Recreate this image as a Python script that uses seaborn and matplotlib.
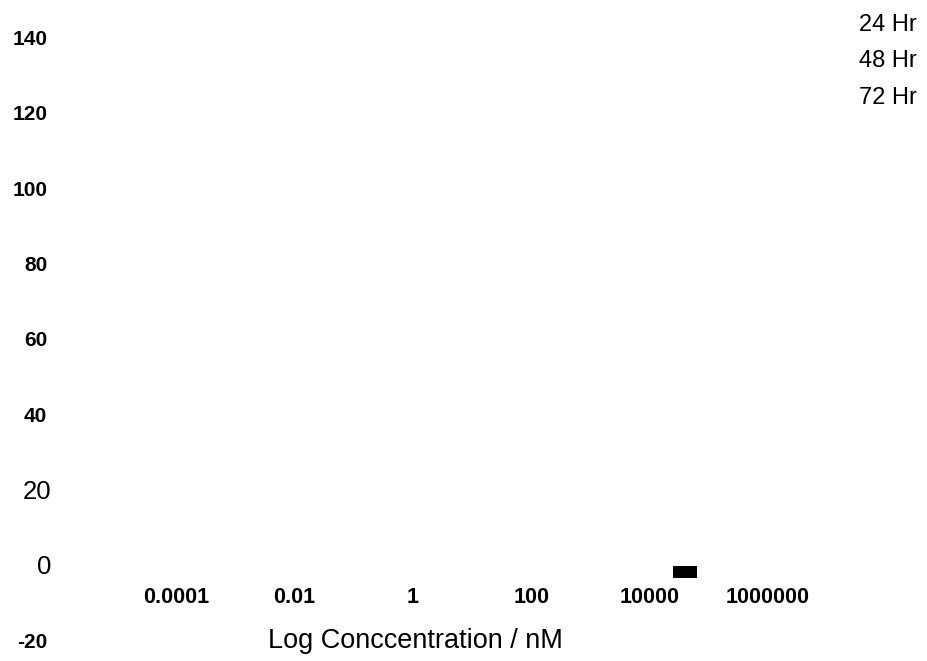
import matplotlib
matplotlib.use("Agg")
import matplotlib.pyplot as plt
from matplotlib.lines import Line2D
from matplotlib.transforms import ScaledTranslation
import pandas as pd
import seaborn as sns

# Measured response vs. concentration
concentration_nM = [40000]
response = [-2]

series_labels = ["24 Hr", "48 Hr", "72 Hr"]

x_tick_values = [1e-4, 1e-2, 1, 1e2, 1e4, 1e6]
x_tick_labels = ["0.0001", "0.01", "1", "100", "10000", "1000000"]
y_tick_values = [-20, 0, 20, 40, 60, 80, 100, 120, 140]
y_tick_labels = ["-20", "0", "20", "40", "60", "80", "100", "120", "140"]
y_regular_labels = ["0", "20"]

sns.set_theme(style="white")
plt.rcParams["font.family"] = ["Liberation Sans", "DejaVu Sans"]
plt.rcParams["text.color"] = "black"
plt.rcParams["axes.labelcolor"] = "black"
plt.rcParams["xtick.color"] = "black"
plt.rcParams["ytick.color"] = "black"

fig = plt.figure(figsize=(9.27, 6.61), dpi=100)
ax = fig.add_axes([55 / 927, 0.0, 872 / 927, 1.0])

df = pd.DataFrame({"conc": concentration_nM, "resp": response})

# wide rectangular marker
rect = [(-1, -0.5), (1, -0.5), (1, 0.5), (-1, 0.5), (-1, -0.5)]
sns.scatterplot(data=df, x="conc", y="resp", ax=ax, marker=rect, s=300,
                color="black", edgecolor="black", linewidth=0, legend=False)

ax.set_xscale("log")
ax.set_xlim(10 ** -6.044, 10 ** 8.686)
ax.set_ylim(-25.5, 149.9)

ax.set_xticks(x_tick_values, x_tick_labels)
ax.minorticks_off()
ax.set_yticks(y_tick_values, y_tick_labels)

for side in ["top", "right", "left", "bottom"]:
    ax.spines[side].set_visible(False)
ax.spines["bottom"].set_position(("axes", (661 - 584) / 661))

ax.tick_params(axis="x", length=0, pad=2, labelsize=15.5)
ax.tick_params(axis="y", length=0, pad=5.5, labelsize=15)

for lbl in ax.get_xticklabels():
    lbl.set_fontweight("bold")
shift = ScaledTranslation(4 / 100, 0, fig.dpi_scale_trans)
for lbl in ax.get_yticklabels():
    if lbl.get_text() in y_regular_labels:
        lbl.set_fontweight("normal")
        lbl.set_fontsize(18.5)
        lbl.set_transform(lbl.get_transform() + shift)
    else:
        lbl.set_fontweight("bold")

ax.set_xlabel("Log Conccentration / nM", fontsize=19.5)
ax.xaxis.label.set_va("center")
ax.xaxis.set_label_coords((415 - 55) / 872, (661 - 641) / 661)
ax.set_ylabel("")

handles = [Line2D([], [], linestyle="none", marker=None) for _ in series_labels]
ax.legend(handles, series_labels, loc="upper right",
          bbox_to_anchor=(922 / 927, 1 - 9.5 / 661), bbox_transform=fig.transFigure,
          frameon=False, handlelength=0, handletextpad=0, fontsize=17,
          labelspacing=0.6, borderaxespad=0.0, borderpad=0.2)

ax.grid(False)
fig.savefig("out.png", dpi=100)
